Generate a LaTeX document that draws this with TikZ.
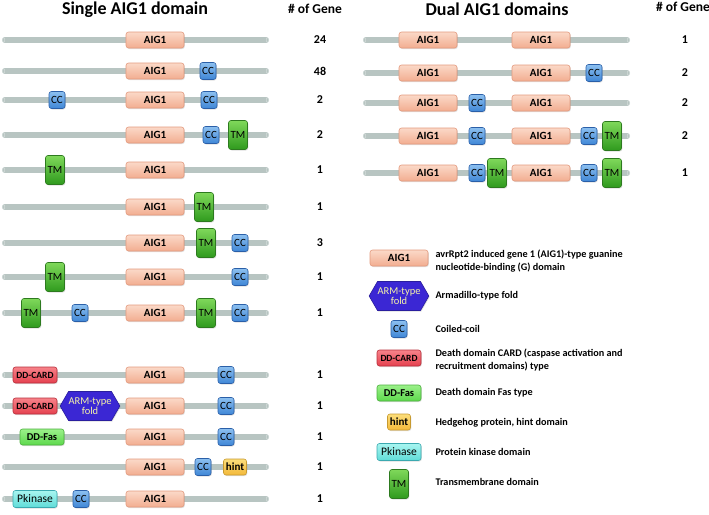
\documentclass[tikz,border=0pt]{standalone}
\usepackage{fontspec}
\setmainfont{Carlito}
\usetikzlibrary{shapes.symbols,shadows}

\definecolor{bbgray}{HTML}{B8C5C2}
\definecolor{bbend}{HTML}{D9E1DF}
\definecolor{aigtop}{HTML}{FBD9C8}
\definecolor{aigbot}{HTML}{F2AD90}
\definecolor{aigline}{HTML}{E39A7E}
\definecolor{cctop}{HTML}{8CC0F0}
\definecolor{ccbot}{HTML}{3F86D6}
\definecolor{ccline}{HTML}{2A5FA8}
\definecolor{tmtop}{HTML}{7FD85A}
\definecolor{tmbot}{HTML}{2F9A1E}
\definecolor{tmline}{HTML}{2D7A1F}
\definecolor{cardtop}{HTML}{F7838A}
\definecolor{cardbot}{HTML}{E5404E}
\definecolor{cardline}{HTML}{B8303C}
\definecolor{fastop}{HTML}{9BF08A}
\definecolor{fasbot}{HTML}{5DD94C}
\definecolor{fasline}{HTML}{4DB03E}
\definecolor{hinttop}{HTML}{FCDD7A}
\definecolor{hintbot}{HTML}{F3B93A}
\definecolor{hintline}{HTML}{C79A30}
\definecolor{pkintop}{HTML}{A8F5F0}
\definecolor{pkinbot}{HTML}{5FDCD8}
\definecolor{pkinline}{HTML}{3BA9B0}
\definecolor{armblue}{HTML}{3B27D4}
\definecolor{armline}{HTML}{2A1E9E}
\definecolor{armtext}{HTML}{F4F1A8}

\tikzset{
  dom/.style={draw, rounded corners=2.5pt, line width=0.6pt, inner sep=0pt,
    drop shadow={opacity=0.25,shadow xshift=0.8pt,shadow yshift=-1pt}},
  aig/.style={dom, draw=aigline, top color=aigtop, bottom color=aigbot,
    minimum width=58pt, minimum height=16pt, font=\bfseries\fontsize{11}{12}\selectfont},
  cc/.style={dom, draw=ccline, top color=cctop, bottom color=ccbot,
    minimum width=16pt, minimum height=17pt, font=\fontsize{11}{12}\selectfont},
  tm/.style={dom, draw=tmline, top color=tmtop, bottom color=tmbot,
    minimum width=19pt, minimum height=29pt, font=\fontsize{11}{12}\selectfont},
  card/.style={dom, draw=cardline, top color=cardtop, bottom color=cardbot,
    minimum width=44pt, minimum height=16pt, font=\bfseries\fontsize{9.5}{10}\selectfont},
  fas/.style={dom, draw=fasline, top color=fastop, bottom color=fasbot,
    minimum width=44pt, minimum height=16pt, font=\bfseries\fontsize{10.5}{11}\selectfont},
  hint/.style={dom, draw=hintline, top color=hinttop, bottom color=hintbot,
    minimum width=23pt, minimum height=16pt, font=\bfseries\fontsize{11}{12}\selectfont},
  pkin/.style={dom, draw=pkinline, top color=pkintop, bottom color=pkinbot,
    minimum width=44pt, minimum height=17pt, font=\fontsize{11.5}{12}\selectfont},
  arm/.style={signal, signal to=west and east, signal pointer angle=120,
    draw=armline, fill=armblue, text=armtext, line width=0.6pt, inner sep=0pt,
    minimum width=57pt, minimum height=29pt, align=center,
    font=\fontsize{10.5}{10.5}\selectfont,
    drop shadow={opacity=0.25,shadow xshift=0.8pt,shadow yshift=-1pt}},
  backbone/.style={line width=6pt, draw=bbgray, line cap=round},
  count/.style={font=\bfseries\fontsize{12}{14}\selectfont},
  gene/.style={font=\bfseries\fontsize{13.5}{16}\selectfont},
  title/.style={font=\bfseries\fontsize{18}{20}\selectfont},
  legtext/.style={anchor=west, align=left, font=\bfseries\fontsize{10.2}{12.5}\selectfont}
}

\begin{document}
\begin{tikzpicture}[x=1pt,y=-1pt]
\useasboundingbox (0,0) rectangle (709,514);

% titles
\node[title] (tSingle) at (135,10) {Single AIG1 domain};
\node[gene] (gSingle) at (315,9) {\# of Gene};
\node[title] (tDual) at (497,9) {Dual AIG1 domains};
\node[gene] (gDual) at (683,7) {\# of Gene};

% backbones
\foreach \y in {40,71,100,135,170,207,243,277,313,375,406,437,467,499} {
  \draw[backbone] (5,\y) -- (266,\y);
  \draw[bbend, line width=0.4pt] (3.5,\y) ellipse (1.3 and 2.3);
  \draw[bbend, line width=0.4pt] (267.5,\y) ellipse (1.3 and 2.3);
}
\foreach \y in {40,73,103,136,173} {
  \draw[backbone] (366,\y) -- (627,\y);
  \draw[bbend, line width=0.4pt] (364.5,\y) ellipse (1.3 and 2.3);
  \draw[bbend, line width=0.4pt] (628.5,\y) ellipse (1.3 and 2.3);
}

% counts
\foreach \y/\n in {40/24,71/48,100/2,135/2,170/1,207/1,243/3,277/1,313/1,375/1,406/1,437/1,467/1,499/1}
  \node[count] (cL\y) at (320,\y) {\n};
\foreach \y/\n in {40/1,73/2,103/2,136/2,173/1}
  \node[count] (cR\y) at (685,\y) {\n};

% single AIG1 domain
\foreach \y in {40,71,100,135,170,207,243,277,313,375,406,437,467,499}
  \node[aig] (aL\y) at (155,\y) {AIG1};
\node[cc] (cc2) at (208,71) {CC};
\node[cc] (cc3a) at (57,100) {CC};
\node[cc] (cc3b) at (209,100) {CC};
\node[cc] (cc4) at (211,135) {CC};
\node[tm] (tm4) at (238,135) {TM};
\node[tm] (tm5) at (55,170) {TM};
\node[tm] (tm6) at (204,207) {TM};
\node[tm] (tm7) at (206,243) {TM};
\node[cc] (cc7) at (240,243) {CC};
\node[tm] (tm8) at (55,277) {TM};
\node[cc] (cc8) at (240,277) {CC};
\node[tm] (tm9a) at (31,313) {TM};
\node[cc] (cc9a) at (80,313) {CC};
\node[tm] (tm9b) at (206,313) {TM};
\node[cc] (cc9b) at (240,313) {CC};
\node[card] (card10) at (35,375) {DD-CARD};
\node[cc] (cc10) at (226,375) {CC};
\node[card] (card11) at (35,406) {DD-CARD};
\node[arm] (arm11) at (90,406) {ARM-type\\fold};
\node[cc] (cc11) at (226,406) {CC};
\node[fas] (fas12) at (42,437) {DD-Fas};
\node[cc] (cc12) at (226,437) {CC};
\node[cc] (cc13) at (203,467) {CC};
\node[hint] (hint13) at (235,467) {hint};
\node[pkin] (pk14) at (35,499) {Pkinase};
\node[cc] (cc14) at (81,499) {CC};

% dual AIG1 domains
\foreach \y in {40,73,103,136,173} {
  \node[aig] (aA\y) at (428,\y) {AIG1};
  \node[aig] (aB\y) at (541,\y) {AIG1};
}
\node[cc] (dcc2) at (594,73) {CC};
\node[cc] (dcc3) at (477,103) {CC};
\node[cc] (dcc4a) at (477,136) {CC};
\node[cc] (dcc4b) at (589,136) {CC};
\node[tm] (dtm4) at (612,136) {TM};
\node[cc] (dcc5a) at (477,173) {CC};
\node[tm] (dtm5a) at (497,173) {TM};
\node[cc] (dcc5b) at (589,173) {CC};
\node[tm] (dtm5b) at (612,173) {TM};

% legend
\node[aig] (kAig) at (399,258) {AIG1};
\node[legtext] (lAig) at (432,261) {avrRpt2 induced gene 1 (AIG1)-type guanine\\nucleotide-binding (G) domain};
\node[arm] (kArm) at (399,296) {ARM-type\\fold};
\node[legtext] (lArm) at (432,296) {Armadillo-type fold};
\node[cc] (kCc) at (399,329) {CC};
\node[legtext] (lCc) at (432,329) {Coiled-coil};
\node[card] (kCard) at (399,358) {DD-CARD};
\node[legtext] (lCard) at (432,360) {Death domain CARD (caspase activation and\\recruitment domains) type};
\node[fas] (kFas) at (399,393) {DD-Fas};
\node[legtext] (lFas) at (432,393) {Death domain Fas type};
\node[hint] (kHint) at (399,422) {hint};
\node[legtext] (lHint) at (432,423) {Hedgehog protein, hint domain};
\node[pkin] (kPk) at (399,452) {Pkinase};
\node[legtext] (lPk) at (432,452) {Protein kinase domain};
\node[tm] (kTm) at (399,484) {TM};
\node[legtext] (lTm) at (432,482) {Transmembrane domain};
\end{tikzpicture}
\end{document}
